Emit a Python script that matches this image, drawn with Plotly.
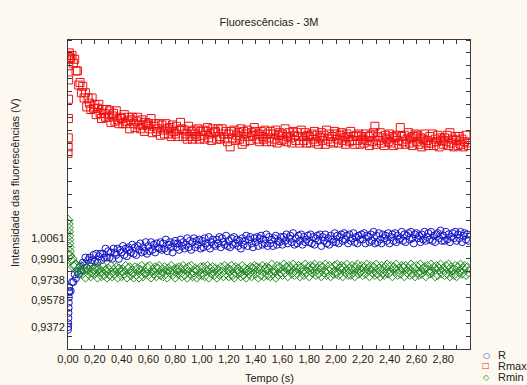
import plotly.graph_objects as go

# --- data ---------------------------------------------------------------
tempo = [
    0.000, 0.001, 0.002, 0.003, 0.004, 0.005, 0.006, 0.007, 0.008, 0.009,
    0.01, 0.02, 0.03, 0.04, 0.05, 0.06, 0.07, 0.08, 0.09,
    0.10, 0.11, 0.12, 0.13, 0.14, 0.15, 0.16, 0.17, 0.18, 0.19,
    0.20, 0.21, 0.22, 0.23, 0.24, 0.25, 0.26, 0.27, 0.28, 0.29,
    0.30, 0.31, 0.32, 0.33, 0.34, 0.35, 0.36, 0.37, 0.38, 0.39,
    0.40, 0.41, 0.42, 0.43, 0.44, 0.45, 0.46, 0.47, 0.48, 0.49,
    0.50, 0.51, 0.52, 0.53, 0.54, 0.55, 0.56, 0.57, 0.58, 0.59,
    0.60, 0.61, 0.62, 0.63, 0.64, 0.65, 0.66, 0.67, 0.68, 0.69,
    0.70, 0.71, 0.72, 0.73, 0.74, 0.75, 0.76, 0.77, 0.78, 0.79,
    0.80, 0.81, 0.82, 0.83, 0.84, 0.85, 0.86, 0.87, 0.88, 0.89,
    0.90, 0.91, 0.92, 0.93, 0.94, 0.95, 0.96, 0.97, 0.98, 0.99,
    1.00, 1.01, 1.02, 1.03, 1.04, 1.05, 1.06, 1.07, 1.08, 1.09,
    1.10, 1.11, 1.12, 1.13, 1.14, 1.15, 1.16, 1.17, 1.18, 1.19,
    1.20, 1.21, 1.22, 1.23, 1.24, 1.25, 1.26, 1.27, 1.28, 1.29,
    1.30, 1.31, 1.32, 1.33, 1.34, 1.35, 1.36, 1.37, 1.38, 1.39,
    1.40, 1.41, 1.42, 1.43, 1.44, 1.45, 1.46, 1.47, 1.48, 1.49,
    1.50, 1.51, 1.52, 1.53, 1.54, 1.55, 1.56, 1.57, 1.58, 1.59,
    1.60, 1.61, 1.62, 1.63, 1.64, 1.65, 1.66, 1.67, 1.68, 1.69,
    1.70, 1.71, 1.72, 1.73, 1.74, 1.75, 1.76, 1.77, 1.78, 1.79,
    1.80, 1.81, 1.82, 1.83, 1.84, 1.85, 1.86, 1.87, 1.88, 1.89,
    1.90, 1.91, 1.92, 1.93, 1.94, 1.95, 1.96, 1.97, 1.98, 1.99,
    2.00, 2.01, 2.02, 2.03, 2.04, 2.05, 2.06, 2.07, 2.08, 2.09,
    2.10, 2.11, 2.12, 2.13, 2.14, 2.15, 2.16, 2.17, 2.18, 2.19,
    2.20, 2.21, 2.22, 2.23, 2.24, 2.25, 2.26, 2.27, 2.28, 2.29,
    2.30, 2.31, 2.32, 2.33, 2.34, 2.35, 2.36, 2.37, 2.38, 2.39,
    2.40, 2.41, 2.42, 2.43, 2.44, 2.45, 2.46, 2.47, 2.48, 2.49,
    2.50, 2.51, 2.52, 2.53, 2.54, 2.55, 2.56, 2.57, 2.58, 2.59,
    2.60, 2.61, 2.62, 2.63, 2.64, 2.65, 2.66, 2.67, 2.68, 2.69,
    2.70, 2.71, 2.72, 2.73, 2.74, 2.75, 2.76, 2.77, 2.78, 2.79,
    2.80, 2.81, 2.82, 2.83, 2.84, 2.85, 2.86, 2.87, 2.88, 2.89,
    2.90, 2.91, 2.92, 2.93, 2.94, 2.95, 2.96, 2.97, 2.98, 2.99,
]

r_vals = [
    0.935, 0.937, 0.940, 0.944, 0.948, 0.952, 0.956, 0.960, 0.964, 0.968,
    0.965, 0.965, 0.972, 0.972, 0.978, 0.975, 0.980, 0.978, 0.984,
    0.981, 0.987, 0.985, 0.991, 0.983, 0.989, 0.991, 0.987, 0.989, 0.993,
    0.988, 0.994, 0.987, 0.992, 0.994, 0.989, 0.994, 0.991, 0.998, 0.991,
    0.996, 0.991, 0.995, 0.990, 0.998, 0.995, 0.993, 0.998, 0.990, 0.997,
    0.995, 1.000, 0.993, 0.998, 0.992, 0.999, 0.997, 0.995, 1.001, 0.994,
    0.999, 0.993, 1.000, 0.997, 1.002, 0.995, 0.999, 0.996, 1.003, 0.994,
    1.000, 0.996, 1.003, 0.997, 1.001, 0.995, 1.002, 0.999, 0.998, 1.003,
    0.997, 1.002, 0.998, 1.005, 0.996, 1.001, 1.003, 0.999, 0.995, 1.002,
    1.004, 0.999, 1.002, 0.997, 1.005, 1.000, 1.003, 0.998, 1.001, 1.006,
    0.999, 1.004, 0.997, 1.003, 1.006, 0.999, 1.004, 1.001, 1.005, 0.998,
    1.004, 0.999, 1.006, 1.002, 1.000, 1.007, 0.998, 1.003, 1.005, 1.001,
    1.000, 1.005, 1.002, 1.007, 0.999, 1.006, 1.003, 1.001, 1.008, 1.000,
    1.004, 0.999, 1.006, 1.001, 1.007, 1.002, 1.005, 1.000, 1.004, 0.998,
    1.006, 1.001, 1.004, 1.008, 1.000, 1.005, 1.007, 1.002, 0.999, 1.006,
    1.003, 1.007, 1.000, 1.006, 1.008, 1.001, 1.005, 1.002, 1.009, 1.000,
    1.007, 1.002, 1.005, 1.000, 1.006, 1.008, 1.001, 1.004, 1.003, 1.007,
    1.001, 1.007, 1.004, 1.009, 1.002, 1.006, 1.008, 1.003, 1.010, 1.001,
    1.006, 1.002, 1.008, 1.004, 1.009, 1.001, 1.007, 1.003, 1.005, 1.008,
    1.003, 1.009, 1.002, 1.007, 1.001, 1.006, 1.008, 1.004, 1.009, 1.000,
    1.007, 1.004, 1.009, 1.002, 1.006, 1.001, 1.008, 1.005, 1.003, 1.010,
    1.003, 1.008, 1.002, 1.007, 1.009, 1.004, 1.010, 1.005, 1.008, 1.002,
    1.009, 1.004, 1.006, 1.010, 1.003, 1.007, 1.002, 1.008, 1.005, 1.009,
    1.005, 1.010, 1.002, 1.008, 1.007, 1.003, 1.009, 1.004, 1.011, 1.002,
    1.008, 1.003, 1.010, 1.005, 1.002, 1.009, 1.006, 1.008, 1.004, 1.010,
    1.002, 1.007, 1.009, 1.004, 1.010, 1.003, 1.008, 1.005, 1.006, 1.011,
    1.004, 1.009, 1.003, 1.008, 1.010, 1.005, 1.011, 1.006, 1.002, 1.009,
    1.010, 1.006, 1.008, 1.003, 1.009, 1.005, 1.011, 1.004, 1.007, 1.010,
    1.005, 1.011, 1.004, 1.008, 1.003, 1.009, 1.010, 1.006, 1.012, 1.004,
    1.008, 1.004, 1.011, 1.005, 1.009, 1.003, 1.007, 1.010, 1.006, 1.011,
    1.004, 1.009, 1.006, 1.011, 1.003, 1.008, 1.010, 1.005, 1.009, 1.004,
]

rmax_vals = [
    1.072, 1.077, 1.084, 1.099, 1.114, 1.129, 1.140, 1.145, 1.148, 1.146,
    1.150, 1.146, 1.148, 1.142, 1.145, 1.136, 1.136, 1.125, 1.127,
    1.119, 1.124, 1.115, 1.119, 1.108, 1.115, 1.111, 1.106, 1.115, 1.107,
    1.110, 1.102, 1.107, 1.110, 1.103, 1.099, 1.106, 1.103, 1.100, 1.106,
    1.100, 1.105, 1.096, 1.101, 1.103, 1.097, 1.105, 1.098, 1.095, 1.100,
    1.099, 1.095, 1.102, 1.095, 1.097, 1.100, 1.091, 1.098, 1.100, 1.095,
    1.092, 1.097, 1.100, 1.094, 1.091, 1.098, 1.094, 1.089, 1.096, 1.094,
    1.095, 1.091, 1.099, 1.088, 1.093, 1.095, 1.089, 1.091, 1.095, 1.086,
    1.094, 1.090, 1.087, 1.095, 1.091, 1.087, 1.092, 1.085, 1.094, 1.089,
    1.087, 1.093, 1.085, 1.090, 1.096, 1.091, 1.085, 1.090, 1.087, 1.083,
    1.093, 1.085, 1.089, 1.083, 1.090, 1.087, 1.085, 1.091, 1.083, 1.089,
    1.086, 1.090, 1.083, 1.089, 1.092, 1.084, 1.087, 1.082, 1.091, 1.088,
    1.089, 1.083, 1.091, 1.085, 1.083, 1.091, 1.087, 1.084, 1.089, 1.081,
    1.087, 1.077, 1.089, 1.084, 1.090, 1.082, 1.086, 1.088, 1.083, 1.091,
    1.079, 1.089, 1.081, 1.087, 1.090, 1.085, 1.082, 1.088, 1.086, 1.092,
    1.089, 1.083, 1.087, 1.081, 1.089, 1.085, 1.083, 1.090, 1.081, 1.087,
    1.084, 1.089, 1.081, 1.087, 1.083, 1.090, 1.080, 1.086, 1.088, 1.082,
    1.087, 1.083, 1.091, 1.081, 1.085, 1.088, 1.084, 1.080, 1.089, 1.086,
    1.082, 1.088, 1.085, 1.080, 1.090, 1.085, 1.082, 1.088, 1.080, 1.086,
    1.085, 1.080, 1.087, 1.083, 1.089, 1.081, 1.086, 1.079, 1.084, 1.088,
    1.082, 1.086, 1.079, 1.090, 1.083, 1.087, 1.081, 1.085, 1.080, 1.089,
    1.087, 1.083, 1.080, 1.086, 1.088, 1.082, 1.084, 1.079, 1.087, 1.085,
    1.081, 1.089, 1.082, 1.085, 1.079, 1.086, 1.082, 1.087, 1.079, 1.085,
    1.083, 1.080, 1.087, 1.082, 1.085, 1.078, 1.086, 1.081, 1.088, 1.093,
    1.079, 1.085, 1.082, 1.088, 1.080, 1.084, 1.078, 1.086, 1.083, 1.081,
    1.087, 1.080, 1.085, 1.078, 1.084, 1.086, 1.082, 1.079, 1.092, 1.085,
    1.081, 1.086, 1.079, 1.083, 1.088, 1.080, 1.084, 1.078, 1.085, 1.087,
    1.081, 1.086, 1.079, 1.084, 1.077, 1.083, 1.087, 1.080, 1.082, 1.078,
    1.085, 1.080, 1.087, 1.078, 1.083, 1.081, 1.086, 1.077, 1.084, 1.082,
    1.079, 1.084, 1.081, 1.086, 1.078, 1.088, 1.080, 1.083, 1.077, 1.085,
    1.082, 1.078, 1.085, 1.079, 1.083, 1.077, 1.081, 1.086, 1.080, 1.078,
]

rmin_vals = [
    1.020, 1.017, 1.014, 1.011, 1.008, 1.005, 1.002, 0.999, 0.996, 0.993,
    0.992, 0.989, 0.990, 0.984, 0.985, 0.985, 0.981, 0.982, 0.979,
    0.984, 0.979, 0.982, 0.976, 0.982, 0.979, 0.984, 0.977, 0.980, 0.982,
    0.979, 0.983, 0.976, 0.982, 0.980, 0.977, 0.984, 0.978, 0.981, 0.976,
    0.982, 0.978, 0.984, 0.977, 0.981, 0.979, 0.983, 0.976, 0.982, 0.980,
    0.977, 0.981, 0.979, 0.984, 0.976, 0.982, 0.983, 0.978, 0.980, 0.976,
    0.983, 0.978, 0.982, 0.976, 0.981, 0.984, 0.977, 0.980, 0.979, 0.983,
    0.978, 0.984, 0.976, 0.981, 0.979, 0.983, 0.977, 0.982, 0.984, 0.978,
    0.981, 0.977, 0.983, 0.979, 0.976, 0.982, 0.980, 0.984, 0.978, 0.981,
    0.976, 0.982, 0.979, 0.983, 0.981, 0.977, 0.984, 0.978, 0.982, 0.976,
    0.983, 0.979, 0.984, 0.977, 0.980, 0.982, 0.976, 0.981, 0.978, 0.983,
    0.978, 0.983, 0.977, 0.981, 0.984, 0.976, 0.982, 0.979, 0.983, 0.978,
    0.982, 0.976, 0.981, 0.978, 0.983, 0.980, 0.977, 0.984, 0.979, 0.982,
    0.977, 0.981, 0.984, 0.978, 0.976, 0.983, 0.979, 0.982, 0.980, 0.977,
    0.984, 0.978, 0.982, 0.976, 0.981, 0.979, 0.983, 0.977, 0.982, 0.984,
    0.979, 0.983, 0.976, 0.982, 0.978, 0.984, 0.977, 0.981, 0.983, 0.978,
    0.982, 0.977, 0.985, 0.979, 0.981, 0.976, 0.984, 0.978, 0.983, 0.980,
    0.978, 0.985, 0.980, 0.983, 0.977, 0.984, 0.982, 0.979, 0.985, 0.978,
    0.982, 0.979, 0.984, 0.977, 0.983, 0.981, 0.978, 0.985, 0.980, 0.983,
    0.977, 0.984, 0.980, 0.983, 0.985, 0.978, 0.982, 0.979, 0.984, 0.977,
    0.983, 0.980, 0.985, 0.978, 0.981, 0.984, 0.977, 0.982, 0.979, 0.984,
    0.979, 0.985, 0.978, 0.982, 0.984, 0.977, 0.983, 0.980, 0.985, 0.978,
    0.982, 0.978, 0.984, 0.980, 0.977, 0.983, 0.985, 0.979, 0.981, 0.984,
    0.978, 0.983, 0.979, 0.985, 0.982, 0.977, 0.984, 0.980, 0.983, 0.978,
    0.985, 0.979, 0.982, 0.977, 0.984, 0.980, 0.978, 0.983, 0.985, 0.979,
    0.980, 0.984, 0.977, 0.983, 0.981, 0.985, 0.978, 0.982, 0.979, 0.984,
    0.983, 0.977, 0.984, 0.980, 0.982, 0.978, 0.985, 0.979, 0.983, 0.977,
    0.984, 0.980, 0.978, 0.985, 0.979, 0.982, 0.983, 0.977, 0.984, 0.981,
    0.979, 0.985, 0.980, 0.983, 0.977, 0.984, 0.978, 0.982, 0.985, 0.979,
    0.982, 0.978, 0.984, 0.979, 0.985, 0.977, 0.983, 0.981, 0.978, 0.984,
    0.977, 0.983, 0.980, 0.985, 0.979, 0.982, 0.984, 0.978, 0.983, 0.980,
]

x_tick_vals = [0.0, 0.2, 0.4, 0.6, 0.8, 1.0, 1.2, 1.4, 1.6, 1.8, 2.0, 2.2, 2.4, 2.6, 2.8]
y_tick_vals = [0.9372, 0.9578, 0.9738, 0.9901, 1.0061]

series_names = ["R", "Rmax", "Rmin"]
title_text = "Fluorescências - 3M"
x_title = "Tempo (s)"
y_title = "Intensidade das fluorescências (V)"

# --- styles ---------------------------------------------------------------
FONT = "Liberation Sans, Arial, sans-serif"
AXIS_COLOR = "#3a3a3a"
GRID_COLOR = "#c4c4c4"
PAPER_BG = "#fdf9f0"
colors = {"R": "#1515c8", "Rmax": "#f01010", "Rmin": "#238a23"}
symbols = {"R": "circle-open", "Rmax": "square-open", "Rmin": "diamond-open"}
sizes = {"R": 7, "Rmax": 8, "Rmin": 8}

fig = go.Figure()
for name, vals in zip(series_names, [r_vals, rmax_vals, rmin_vals]):
    fig.add_trace(go.Scatter(
        x=tempo, y=vals, name=name, mode="markers",
        marker=dict(symbol=symbols[name], size=sizes[name], color=colors[name],
                    line=dict(width=1, color=colors[name])),
        showlegend=False,
    ))

x_range = [0, 3.0]
y_range = [0.92, 1.16]

fig.update_layout(
    width=527, height=385,
    margin=dict(l=68, r=57, t=40, b=36),
    paper_bgcolor=PAPER_BG,
    plot_bgcolor="#ffffff",
    separators=", ",
    font=dict(family=FONT, size=11, color="#222222"),
    title=dict(text=title_text, x=0.5, xref="paper", y=1 - 22 / 385, yanchor="middle",
               font=dict(family=FONT, size=11, color="#222222")),
    xaxis=dict(
        range=x_range, tickmode="array", tickvals=x_tick_vals, tickformat=".2f",
        ticks="inside", ticklen=4, tickcolor=AXIS_COLOR,
        minor=dict(ticks="inside", ticklen=4, dtick=0.1, tick0=0, tickcolor=AXIS_COLOR, showgrid=False),
        showgrid=False, zeroline=False,
        showline=True, linecolor=AXIS_COLOR, linewidth=1, mirror="ticks",
        tickfont=dict(size=11),
    ),
    xaxis2=dict(
        overlaying="x", anchor="y", range=x_range, tickmode="linear", tick0=0, dtick=0.5,
        showgrid=True, gridcolor=GRID_COLOR, griddash="3px,2px", gridwidth=1,
        showticklabels=False, ticks="", showline=False, zeroline=False,
    ),
    yaxis=dict(
        range=y_range, tickmode="array", tickvals=y_tick_vals, tickformat=".4f",
        ticks="",
        minor=dict(ticks="inside", ticklen=4, dtick=0.01, tick0=0.92, tickcolor=AXIS_COLOR, showgrid=False),
        showgrid=False, zeroline=False,
        showline=True, linecolor=AXIS_COLOR, linewidth=1, mirror="ticks",
        tickfont=dict(size=11),
    ),
    yaxis2=dict(
        overlaying="y", anchor="x", range=y_range, tickmode="linear", tick0=0.92, dtick=0.02,
        showgrid=True, gridcolor=GRID_COLOR, griddash="3px,2px", gridwidth=1,
        showticklabels=False, ticks="", showline=False, zeroline=False,
    ),
    showlegend=False,
)

# axis titles
fig.add_annotation(text=x_title, xref="paper", yref="paper", x=0.5, y=(349 - 378) / 309,
                   xanchor="center", yanchor="middle", showarrow=False,
                   font=dict(family=FONT, size=11, color="#222222"))
fig.add_annotation(text=y_title, xref="paper", yref="paper", x=(15 - 68) / 402, y=(349 - 183) / 309,
                   xanchor="center", yanchor="middle", textangle=-90, showarrow=False,
                   font=dict(family=FONT, size=11, color="#222222"))

# legend (drawn as text so the rows can be packed as tightly as the original)
legend_glyphs = {"R": "○", "Rmax": "□", "Rmin": "◇"}
legend_rows_px = [355, 366, 377]
for name, ypx in zip(series_names, legend_rows_px):
    fig.add_annotation(
        text=f'<span style="color:{colors[name]}">{legend_glyphs[name]}</span>',
        xref="paper", yref="paper", x=(486 - 68) / 402, y=(349 - ypx) / 309,
        xanchor="center", yanchor="middle", showarrow=False,
        font=dict(family="DejaVu Sans", size=8, color=colors[name]))
    fig.add_annotation(
        text=name, xref="paper", yref="paper", x=(496 - 68) / 402, y=(349 - ypx) / 309,
        xanchor="left", yanchor="middle", showarrow=False,
        font=dict(family=FONT, size=11, color="#222222"))

# remove the browser's default 8px body margin so the figure fills the window
fig.write_html(
    "out.html",
    config={"displayModeBar": False},
    post_script=(
        "document.body.style.margin='0';"
        "document.body.style.padding='0';"
        f"document.body.style.background='{PAPER_BG}';"
    ),
)
